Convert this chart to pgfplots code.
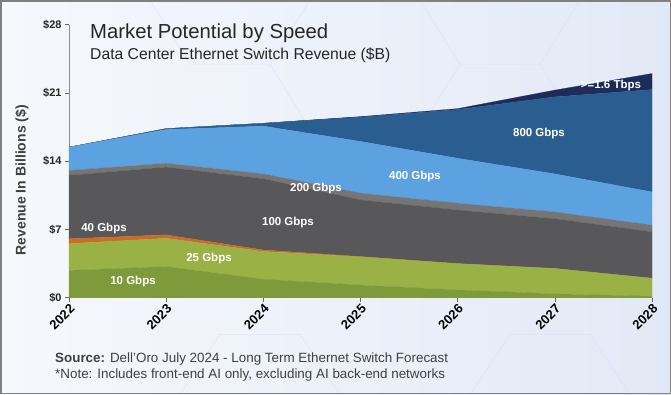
\documentclass[border=0pt]{standalone}
\usepackage{pgfplots}
\pgfplotsset{compat=1.18}
\usepackage{fontspec}
\setmainfont{Liberation Sans}
\definecolor{gTen}{HTML}{7F9A3A}
\definecolor{gTwentyFive}{HTML}{9AB245}
\definecolor{cForty}{HTML}{CC6A28}
\definecolor{cHundred}{HTML}{58585A}
\definecolor{cTwoHundred}{HTML}{757575}
\definecolor{cFourHundred}{HTML}{5CA2E0}
\definecolor{cEightHundred}{HTML}{2B5E90}
\definecolor{cSixteen}{HTML}{1D2C5A}
\definecolor{bgL}{HTML}{F6F8FC}
\definecolor{bgR}{HTML}{E2E9F6}
\definecolor{txt}{HTML}{262626}
\tikzset{lbl/.style={text=white, font=\fontsize{11.5}{13}\selectfont\bfseries}}
\begin{document}
\begin{tikzpicture}[x=1pt,y=1pt]
\shade[left color=bgL, right color=bgR] (0,0) rectangle (671,394);
\draw[draw=bgR!70!blue!40, line width=0.5pt, opacity=0.6] (150,394) -- (190,330) -- (270,330) -- (310,394);
\draw[draw=bgR!70!blue!40, line width=0.5pt, opacity=0.6] (270,330) -- (310,265);
\draw[draw=bgR!70!blue!40, line width=0.5pt, opacity=0.6] (420,394) -- (460,330) -- (540,330) -- (580,394);
\draw[draw=bgR!70!blue!40, line width=0.5pt, opacity=0.6] (540,330) -- (580,265) -- (660,265);
\draw[draw=bgR!70!blue!40, line width=0.5pt, opacity=0.6] (460,330) -- (420,265);
\draw[draw=bgR!70!blue!40, line width=0.5pt, opacity=0.6] (180,0) -- (220,60) -- (300,60) -- (340,0);
\draw[draw=bgR!70!blue!40, line width=0.5pt, opacity=0.6] (470,0) -- (510,60) -- (590,60) -- (630,0);
\begin{axis}[
  at={(69pt,96.5pt)}, anchor=south west,
  scale only axis, width=583pt, height=273pt,
  xmin=2022, xmax=2028, ymin=0, ymax=28,
  stack plots=y,
  axis lines=left,
  axis line style={-},
  x axis line style={draw=black!80, line width=0.8pt},
  y axis line style={draw=black!45, line width=0.8pt},
  xtick={2022,2023,2024,2025,2026,2027,2028},
  xticklabels={2022,2023,2024,2025,2026,2027,2028},
  ytick={0,7,14,21,28},
  yticklabels={\$0,\$7,\$14,\$21,\$28},
  tick align=outside,
  major tick length=4pt,
  tick style={draw=black!60, line width=0.6pt},
  yticklabel style={font=\fontsize{11}{12}\selectfont\bfseries, text=txt},
  xticklabel style={font=\fontsize{13}{14}\selectfont\bfseries, text=black, rotate=45, anchor=north east, inner sep=1pt},
  clip=false,
]
\addplot[fill=gTen, draw=gTen, line width=0.2pt] coordinates {(2022,2.8) (2023,3.2) (2024,1.9) (2025,1.3) (2026,0.8) (2027,0.4) (2028,0.15)} \closedcycle;
\addplot[fill=gTwentyFive, draw=gTwentyFive, line width=0.2pt] coordinates {(2022,2.75) (2023,2.9) (2024,2.85) (2025,2.9) (2026,2.7) (2027,2.6) (2028,1.85)} \closedcycle;
\addplot[fill=cForty, draw=cForty, line width=0.2pt] coordinates {(2022,0.5) (2023,0.35) (2024,0.15) (2025,0.03) (2026,0) (2027,0) (2028,0)} \closedcycle;
\addplot[fill=cHundred, draw=cHundred, line width=0.2pt] coordinates {(2022,6.5) (2023,6.95) (2024,7.3) (2025,5.8) (2026,5.5) (2027,5.1) (2028,4.75)} \closedcycle;
\addplot[fill=cTwoHundred, draw=cTwoHundred, line width=0.2pt] coordinates {(2022,0.5) (2023,0.4) (2024,0.5) (2025,0.7) (2026,0.7) (2027,0.7) (2028,0.7)} \closedcycle;
\addplot[fill=cFourHundred, draw=cFourHundred, line width=0.2pt] coordinates {(2022,2.4) (2023,3.45) (2024,4.9) (2025,5.3) (2026,4.6) (2027,3.9) (2028,3.4)} \closedcycle;
\addplot[fill=cEightHundred, draw=cEightHundred, line width=0.2pt] coordinates {(2022,0) (2023,0.1) (2024,0.3) (2025,2.5) (2026,5.0) (2027,7.9) (2028,10.5)} \closedcycle;
\addplot[fill=cSixteen, draw=cSixteen, line width=0.2pt] coordinates {(2022,0) (2023,0) (2024,0) (2025,0.05) (2026,0.1) (2027,0.7) (2028,1.65)} \closedcycle;
\end{axis}
\node[lbl] at (133,113) {10 Gbps};
\node[lbl] at (209,136) {25 Gbps};
\node[lbl] at (104,166) {40 Gbps};
\node[lbl] at (288,172) {100 Gbps};
\node[lbl] at (316,206) {200 Gbps};
\node[lbl] at (415,218) {400 Gbps};
\node[lbl] at (539,261) {800 Gbps};
\node[lbl] at (611,309) {>=1.6 Tbps};
\node[anchor=base west, inner sep=0, text=txt, font=\fontsize{20.3}{23}\selectfont] at (90,356) {Market Potential by Speed};
\node[anchor=base west, inner sep=0, text=txt, font=\fontsize{15.7}{17}\selectfont] at (90,335) {Data Center Ethernet Switch Revenue (\$B)};
\node[rotate=90, text=black!75, font=\fontsize{14}{16}\selectfont\bfseries] at (22,214) {Revenue In Billions (\$)};
\node[anchor=base west, inner sep=0, text=black!75, font=\fontsize{13.4}{15}\selectfont] at (55,32) {\textbf{Source:} Dell’Oro July 2024 - Long Term Ethernet Switch Forecast};
\node[anchor=base west, inner sep=0, text=black!75, font=\fontsize{13.4}{15}\selectfont] at (55,16) {*Note: Includes front-end AI only, excluding AI back-end networks};
\draw[draw=black!50, line width=1.5pt] (0.75,0.75) rectangle (670.25,393.25);
\end{tikzpicture}
\end{document}
